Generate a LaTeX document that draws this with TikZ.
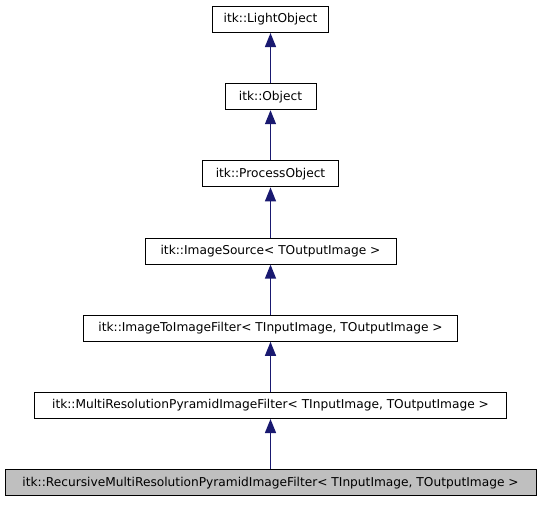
\documentclass[tikz,border=0pt]{standalone}
\usepackage{fontspec}
\setmainfont{DejaVu Sans}
\usetikzlibrary{arrows.meta}
\definecolor{edgeblue}{HTML}{191970}
\definecolor{curgray}{HTML}{BFBFBF}
\tikzset{
  cls/.style={draw=black, line width=1pt, fill=white, rectangle, inner sep=0pt,
    minimum height=26pt, anchor=north, font=\fontsize{12.2pt}{14pt}\selectfont},
  cur/.style={cls, fill=curgray},
  inh/.style={draw=edgeblue, line width=1.3pt, -{Triangle[width=11pt,length=14pt]}, edgeblue}
}
\begin{document}
\begin{tikzpicture}[x=1pt,y=1pt]
\useasboundingbox (0,0) rectangle (541,-504);
\node[cls, minimum width=116pt] (lo) at (270.5,-6) {itk::LightObject};
\node[cls, minimum width=91pt] (ob) at (270.5,-83.2) {itk::Object};
\node[cls, minimum width=136.6pt] (po) at (270.5,-160.4) {itk::ProcessObject};
\node[cls, minimum width=251pt] (is) at (270.5,-237.6) {itk::ImageSource< TOutputImage >};
\node[cls, minimum width=374pt] (ii) at (270.5,-314.8) {itk::ImageToImageFilter< TInputImage, TOutputImage >};
\node[cls, minimum width=472pt] (mr) at (270.5,-392) {itk::MultiResolutionPyramidImageFilter< TInputImage, TOutputImage >};
\node[cur, minimum width=531pt] (rm) at (270.5,-469.2) {itk::RecursiveMultiResolutionPyramidImageFilter< TInputImage, TOutputImage >};
\draw[inh] (ob.north) -- (lo.south);
\draw[inh] (po.north) -- (ob.south);
\draw[inh] (is.north) -- (po.south);
\draw[inh] (ii.north) -- (is.south);
\draw[inh] (mr.north) -- (ii.south);
\draw[inh] (rm.north) -- (mr.south);
\end{tikzpicture}
\end{document}
